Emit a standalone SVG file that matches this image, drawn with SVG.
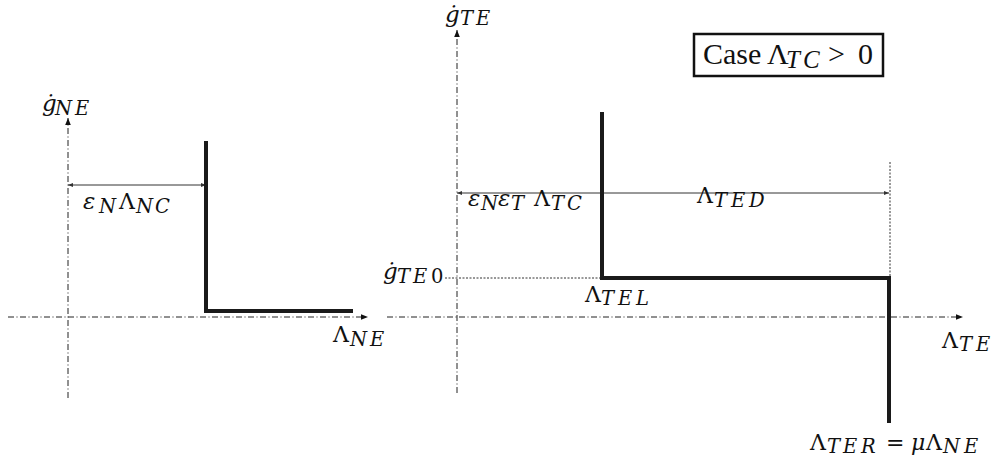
<svg xmlns="http://www.w3.org/2000/svg" width="1000" height="468" viewBox="0 0 1000 468">
<style>
.axis{stroke:#222;stroke-width:1;fill:none;stroke-dasharray:6 2.5 1 2.5}
.thick{stroke:#1a1a1a;stroke-width:4;fill:none;stroke-linecap:square}
.dim{stroke:#333;stroke-width:1;fill:none}
.dot{stroke:#333;stroke-width:1;fill:none;stroke-dasharray:2 1.5}
.c{fill:#111;font-family:"Liberation Serif","Times New Roman",serif;font-size:30px}
.t{fill:#111;font-family:"DejaVu Serif","Liberation Serif",serif;font-size:22px}
.i{font-style:italic}
.g{font-style:italic;font-size:23px}
.s{font-size:19.5px;font-style:italic}
.u{font-style:normal}
</style>
<defs>
<marker id="ah" viewBox="0 0 10 10" refX="10" refY="5" markerWidth="7" markerHeight="7" orient="auto" markerUnits="userSpaceOnUse">
<path d="M0,1 L10,5 L0,9 z" fill="#111"/>
</marker>
<marker id="dh" viewBox="0 0 10 10" refX="10" refY="5" markerWidth="5" markerHeight="5" orient="auto-start-reverse" markerUnits="userSpaceOnUse">
<path d="M0,1 L10,5 L0,9 z" fill="#333"/>
</marker>
</defs>
<g id="connectors">
<line class="axis" x1="8" y1="317" x2="368" y2="317" marker-end="url(#ah)"/>
<line class="axis" x1="68" y1="398" x2="68" y2="118" marker-end="url(#ah)"/>
<line class="axis" x1="387" y1="317" x2="963" y2="317" marker-end="url(#ah)"/>
<line class="axis" x1="457" y1="393" x2="457" y2="30" marker-end="url(#ah)"/>
<line class="dim" x1="68" y1="185" x2="206" y2="185" marker-start="url(#dh)" marker-end="url(#dh)"/>
<line class="dim" x1="457" y1="193" x2="889" y2="193" marker-start="url(#dh)" marker-end="url(#dh)"/>
<circle cx="602" cy="193" r="2" fill="#333"/>
<line class="dot" x1="890" y1="162" x2="890" y2="278"/>
<line class="dot" x1="445" y1="278" x2="601" y2="278"/>
</g>
<g id="curve-normal">
<polyline class="thick" points="206,143 206,311 351,311"/>
</g>
<g id="curve-tangential">
<polyline class="thick" points="602,114 602,278 889,278 889,421"/>
</g>
<g id="case-box">
<rect x="694" y="34" width="189" height="42" fill="#fff" stroke="#111" stroke-width="2.5"/>
<text class="c" x="703" y="64">Case<tspan x="767">Λ</tspan><tspan class="i" style="font-size:25px" x="786 803" y="68">TC</tspan><tspan x="828" y="64">&gt;</tspan><tspan x="858">0</tspan></text>
</g>
<g id="labels">
<text class="t" x="42" y="111"><tspan class="g">ġ</tspan><tspan class="s" x="55 75" y="115">NE</tspan></text>
<text class="t" x="83" y="209"><tspan class="g">ε</tspan><tspan class="s" x="99" y="213">N</tspan><tspan x="119" y="209">Λ</tspan><tspan class="s" x="136 155" y="213">NC</tspan></text>
<text class="t" x="333" y="342">Λ<tspan class="s" x="350 370" y="346">NE</tspan></text>
<text class="t" x="445" y="22"><tspan class="g">ġ</tspan><tspan class="s" x="460 476" y="25">TE</tspan></text>
<text class="t" x="468" y="206"><tspan class="g">ε</tspan><tspan class="s" x="481" y="210">N</tspan><tspan class="g" x="498" y="206">ε</tspan><tspan class="s" x="511" y="210">T</tspan><tspan x="534" y="206">Λ</tspan><tspan class="s" x="551 567" y="210">TC</tspan></text>
<text class="t" x="697" y="203">Λ<tspan class="s" x="714 731 749" y="207">TED</tspan></text>
<text class="t" x="383" y="279"><tspan class="g">ġ</tspan><tspan class="s" x="397 413" y="283">TE</tspan><tspan class="s u" x="431" y="283">0</tspan></text>
<text class="t" x="585" y="302">Λ<tspan class="s" x="601 618 636" y="305">TEL</tspan></text>
<text class="t" x="942" y="348">Λ<tspan class="s" x="959 976" y="351">TE</tspan></text>
<text class="t" x="810" y="450">Λ<tspan class="s" x="827 843 861" y="453">TER</tspan><tspan x="886" y="450">=</tspan><tspan class="i" x="911">μ</tspan><tspan x="926">Λ</tspan><tspan class="s" x="943 964" y="453">NE</tspan></text>
</g>
</svg>
